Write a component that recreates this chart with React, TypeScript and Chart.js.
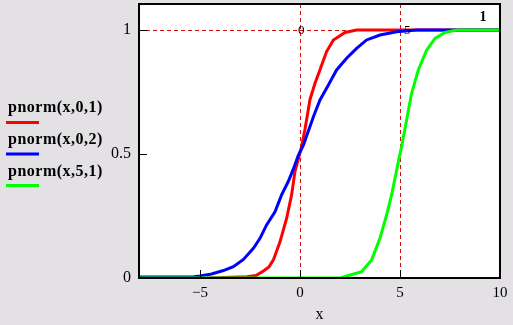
import { useEffect, useRef } from 'react';
import { Chart, registerables } from 'chart.js';

Chart.register(...registerables);

const seriesLabels = ['pnorm(x,0,1)', 'pnorm(x,0,2)', 'pnorm(x,5,1)'];
const seriesColors = ['#FF0000', '#0000FF', '#00FF00'];

const redX = [-4.65, -2.65, -2.2, -1.83, -1.55, -1.33, -1.0, -0.67, -0.42, -0.25, -0.08, 0.08, 0.25, 0.5, 0.75, 1.0, 1.33, 1.67, 2.25, 2.83, 10];
const redY = [0, 0.005, 0.01, 0.028, 0.045, 0.073, 0.146, 0.24, 0.335, 0.43, 0.48, 0.53, 0.6, 0.72, 0.785, 0.84, 0.913, 0.96, 0.99, 1.0, 1.0];

const blueX = [-8.05, -5.3, -5, -4.42, -3.83, -3.33, -2.83, -2.33, -2.0, -1.67, -1.25, -0.92, -0.58, -0.33, -0.08, 0.17, 0.67, 1.0, 1.42, 1.83, 2.33, 2.83, 3.33, 4.0, 4.83, 5.83, 10];
const blueY = [0.004, 0.005, 0.008, 0.016, 0.03, 0.046, 0.075, 0.12, 0.16, 0.214, 0.267, 0.335, 0.39, 0.44, 0.496, 0.536, 0.65, 0.718, 0.778, 0.839, 0.886, 0.926, 0.96, 0.98, 0.993, 1.0, 1.0];

const greenX = [-8.05, 2.0, 2.42, 3.08, 3.58, 4.0, 4.33, 4.58, 4.75, 4.92, 5.08, 5.33, 5.58, 5.92, 6.33, 6.75, 7.25, 7.83, 10];
const greenY = [0, 0, 0.01, 0.025, 0.073, 0.16, 0.254, 0.335, 0.402, 0.47, 0.53, 0.637, 0.745, 0.84, 0.919, 0.966, 0.99, 1.0, 1.0];

const xTicks = [-5, 0, 5, 10];
const yTicks = [0, 0.5, 1];
const markerX = [0, 5];
const markerXLabels = ['0', '5'];
const markerY = [1];
const markerYLabels = ['1'];

const xMin = -8.05;
const xMax = 10;
const yMin = 0;
const yMax = 1.105;

const toPoints = (xs: number[], ys: number[]) => xs.map((x, i) => ({ x, y: ys[i] }));

const decor = {
  id: 'decor',
  beforeDraw(chart: any) {
    const { ctx, chartArea: a, width, height } = chart;
    ctx.save();
    ctx.fillStyle = '#E3E1E4';
    ctx.fillRect(0, 0, width, height);
    ctx.fillStyle = '#FFFFFF';
    ctx.fillRect(a.left, a.top, a.right - a.left, a.bottom - a.top);
    ctx.restore();
  },
  beforeDatasetsDraw(chart: any) {
    const { ctx, chartArea: a, scales } = chart;
    ctx.save();
    ctx.strokeStyle = '#D01010';
    ctx.lineWidth = 1;
    ctx.setLineDash([4, 3]);
    markerX.forEach((v) => {
      const px = Math.round(scales.x.getPixelForValue(v)) + 0.5;
      ctx.beginPath();
      ctx.moveTo(px, a.top);
      ctx.lineTo(px, a.bottom);
      ctx.stroke();
    });
    markerY.forEach((v) => {
      const py = Math.round(scales.y.getPixelForValue(v)) + 0.5;
      ctx.beginPath();
      ctx.moveTo(a.left, py);
      ctx.lineTo(a.right, py);
      ctx.stroke();
    });
    ctx.restore();
  },
  afterDatasetsDraw(chart: any) {
    const { ctx, chartArea: a, scales } = chart;
    ctx.save();
    ctx.strokeStyle = '#000';
    ctx.lineWidth = 2;
    ctx.strokeRect(a.left, a.top, a.right - a.left, a.bottom - a.top);
    ctx.lineWidth = 1;
    xTicks.forEach((v) => {
      const px = Math.round(scales.x.getPixelForValue(v)) + 0.5;
      ctx.beginPath();
      ctx.moveTo(px, a.bottom);
      ctx.lineTo(px, a.bottom - 8);
      ctx.stroke();
    });
    yTicks.forEach((v) => {
      const py = Math.round(scales.y.getPixelForValue(v)) + 0.5;
      ctx.beginPath();
      ctx.moveTo(a.left, py);
      ctx.lineTo(a.left + 8, py);
      ctx.stroke();
    });
    ctx.fillStyle = '#000';
    ctx.font = '13px "Liberation Serif"';
    ctx.textBaseline = 'middle';
    ctx.textAlign = 'left';
    markerX.forEach((v, i) => {
      const px = scales.x.getPixelForValue(v);
      const py = scales.y.getPixelForValue(markerY[0]);
      ctx.fillText(markerXLabels[i], px + (i === 0 ? -2 : 4), py + 1);
    });
    ctx.font = 'bold 14px "Liberation Serif"';
    ctx.textAlign = 'center';
    markerY.forEach((v, i) => {
      const py = scales.y.getPixelForValue(v);
      ctx.fillText(markerYLabels[i], a.right - 17, py - 13);
    });
    chart.data.datasets.forEach((ds: any, i: number) => {
      ctx.font = 'bold 16px "Liberation Serif"';
      ctx.textAlign = 'left';
      ctx.textBaseline = 'alphabetic';
      ctx.fillStyle = '#000';
      (ctx as any).letterSpacing = '0.5px';
      ctx.fillText(ds.label, 8, 112 + i * 32);
      (ctx as any).letterSpacing = '0px';
      ctx.strokeStyle = ds.borderColor;
      ctx.lineWidth = 3;
      ctx.beginPath();
      ctx.moveTo(6, 122.5 + i * 31.5);
      ctx.lineTo(39, 122.5 + i * 31.5);
      ctx.stroke();
    });
    ctx.restore();
  },
};

const zeroPad = (s: any) => {
  s.paddingTop = 0;
  s.paddingBottom = 0;
  s.paddingLeft = 0;
  s.paddingRight = 0;
};

export default function App() {
  const ref = useRef<HTMLCanvasElement | null>(null);
  useEffect(() => {
    document.body.style.margin = '0';
    const canvas = ref.current;
    if (!canvas) return;
    Chart.defaults.font.family = '"Liberation Serif"';
    Chart.defaults.color = '#000';
    const seriesX = [redX, blueX, greenX];
    const seriesY = [redY, blueY, greenY];
    const chart = new Chart(canvas, {
      type: 'line',
      data: {
        datasets: seriesLabels.map((label, i) => ({
          label,
          data: toPoints(seriesX[i], seriesY[i]),
          borderColor: seriesColors[i],
          backgroundColor: seriesColors[i],
          borderWidth: 3,
          pointRadius: 0,
          tension: 0,
          fill: false,
          order: 3 - i,
        })),
      },
      options: {
        animation: false,
        responsive: false,
        devicePixelRatio: 1,
        layout: { padding: { left: 0, top: 4, right: 13, bottom: 0 } },
        plugins: { legend: { display: false }, tooltip: { enabled: false } },
        scales: {
          x: {
            type: 'linear',
            min: xMin,
            max: xMax,
            grid: { display: false },
            border: { display: false },
            afterBuildTicks: (s: any) => {
              s.ticks = xTicks.map((v) => ({ value: v }));
            },
            afterFit: (s: any) => {
              s.height = 47;
              zeroPad(s);
            },
            ticks: {
              font: { size: 15 },
              padding: -2,
              maxRotation: 0,
              autoSkip: false,
              callback: (v: any) => (Number(v) < 0 ? '\u2212' + Math.abs(Number(v)) : String(v)),
            },
            title: { display: true, text: 'x', font: { size: 16 }, padding: { top: 0, bottom: 1 } },
          },
          y: {
            type: 'linear',
            min: yMin,
            max: yMax,
            grid: { display: false },
            border: { display: false },
            afterBuildTicks: (s: any) => {
              s.ticks = yTicks.map((v) => ({ value: v }));
            },
            afterFit: (s: any) => {
              s.width = 139;
              zeroPad(s);
            },
            ticks: { font: { size: 16 }, padding: 0, autoSkip: false, callback: (v: any) => String(v) },
          },
        },
      },
      plugins: [decor],
    });
    return () => chart.destroy();
  }, []);
  return <canvas ref={ref} width={513} height={325} style={{ display: 'block', width: 513, height: 325 }} />;
}
